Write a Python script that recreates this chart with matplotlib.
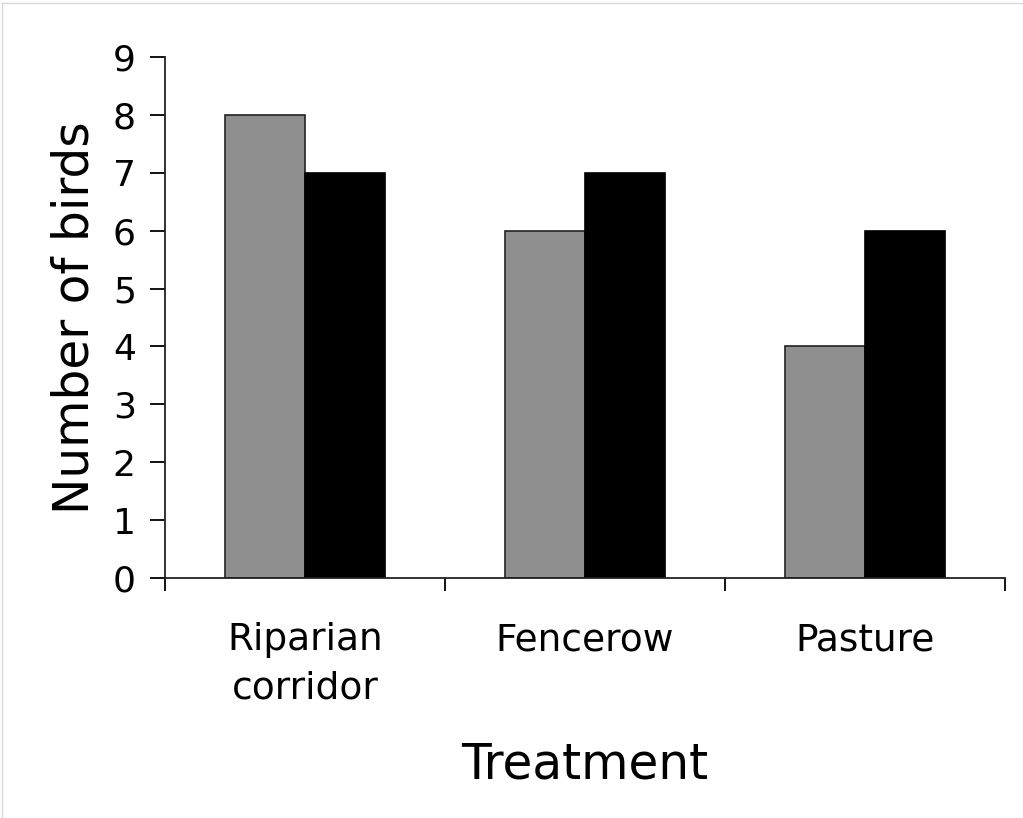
import matplotlib.pyplot as plt
from matplotlib.lines import Line2D

categories = ["Riparian\ncorridor", "Fencerow", "Pasture"]
series_gray = [8, 6, 4]
series_black = [7, 7, 6]
y_ticks = [0, 1, 2, 3, 4, 5, 6, 7, 8, 9]

fig = plt.figure(figsize=(10.23, 8.18), dpi=100)
ax = fig.add_axes([0.1613, 0.2934, 0.8211, 0.6369])

centers = [i + 0.5 for i in range(len(categories))]
w = 80 / 280
ax.bar([c - w / 2 for c in centers], series_gray, width=w, color="#8f8f8f",
       edgecolor="#222222", linewidth=1.2)
ax.bar([c + w / 2 for c in centers], series_black, width=w, color="black",
       edgecolor="black", linewidth=1.2)

ax.set_xlim(0, 3)
ax.set_ylim(0, 9)
ax.set_yticks(y_ticks)
ax.set_xticks([0, 1, 2, 3])
ax.set_xticklabels([])
ax.set_xticks(centers, minor=True)
ax.set_xticklabels(categories, minor=True, fontsize=27, linespacing=1.42)
ax.tick_params(axis="x", which="minor", length=0, pad=32)
ax.tick_params(axis="x", which="major", length=9, width=1.3, direction="out")
ax.tick_params(axis="y", length=11, width=1.3, direction="out", labelsize=26, pad=10)

for s in ["top", "right"]:
    ax.spines[s].set_visible(False)
for s in ["left", "bottom"]:
    ax.spines[s].set_linewidth(1.3)
    ax.spines[s].set_color("#222222")

ax.set_ylabel("Number of birds", fontsize=35, labelpad=10)
ax.set_xlabel("Treatment", fontsize=35, labelpad=25)

# thin frame of the screenshot
fig.add_artist(Line2D([0.002, 0.002], [0, 0.996], transform=fig.transFigure, color="#d8d8d8", lw=1))
fig.add_artist(Line2D([0.002, 1], [0.996, 0.996], transform=fig.transFigure, color="#d8d8d8", lw=1))

fig.savefig("out.png", dpi=100)
